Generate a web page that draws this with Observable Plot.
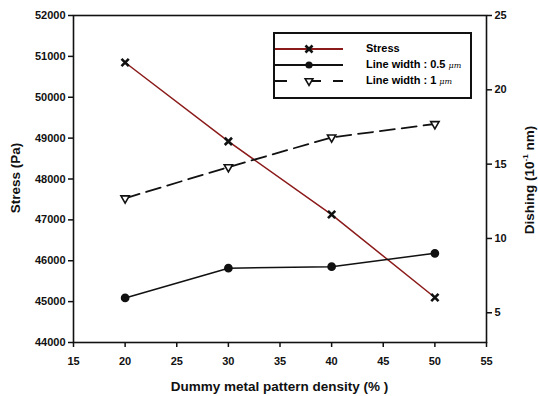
<!DOCTYPE html>
<html>
<head>
<meta charset="utf-8">
<script src="https://cdn.jsdelivr.net/npm/d3@7"></script>
<script src="https://cdn.jsdelivr.net/npm/@observablehq/plot@0.6"></script>
<style>
  html, body { margin: 0; padding: 0; background: #fff; }
  #wrap { position: relative; width: 538px; height: 396px; font-family: "Liberation Sans", Arial, sans-serif; font-weight: bold; }
  #wrap svg { position: absolute; left: 0; top: 0; }
  .lbl { position: absolute; font-size: 13.5px; color: #111; white-space: nowrap; }
  #legend { position: absolute; left: 273px; top: 32px; width: 195px; height: 63px; border: 2px solid #111; background: #fff; box-sizing: content-box; }
  .row { position: absolute; left: 0; height: 16px; font-size: 11px; }
  .row svg { position: absolute; left: 6px; top: 0; }
  .row span.t { position: absolute; left: 91px; top: 1px; white-space: nowrap; }
  .mu { font-family: "DejaVu Serif", serif; font-style: italic; font-weight: normal; font-size: 8px; }
</style>
</head>
<body>
<div id="wrap"></div>
<script>
// ---- data ----
const density = [20, 30, 40, 50];
const stress = [50850, 48920, 47130, 45100];
const dishing05 = [6.0, 8.0, 8.1, 9.0];
const dishing1 = [12.7, 14.8, 16.8, 17.7];
const xTicks = [15, 20, 25, 30, 35, 40, 45, 50, 55];
const stressTicks = [44000, 45000, 46000, 47000, 48000, 49000, 50000, 51000, 52000];
const dishTicks = [5, 10, 15, 20, 25];
const seriesNames = ["Stress", "Line width : 0.5 ", "Line width : 1 "];

const W = 538, H = 396;
const margins = {marginLeft: 73, marginRight: 52, marginTop: 15, marginBottom: 54};
const red = "#8b1a1a";
const font = {fontFamily: "Liberation Sans, Arial, sans-serif", fontWeight: "bold", fontSize: "11px", overflow: "visible"};

const stressData = density.map((x, i) => ({x, y: stress[i]}));
const d05 = density.map((x, i) => ({x, y: dishing05[i]}));
const d1 = density.map((x, i) => ({x, y: dishing1[i]}));

const p1 = Plot.plot({
  width: W, height: H, ...margins,
  style: {...font, background: "transparent"},
  x: {domain: [15, 55], ticks: xTicks},
  y: {domain: [44000, 52000]},
  marks: [
    Plot.axisX({ticks: xTicks, tickSize: 5, tickPadding: 10, label: null, stroke: "#111", strokeWidth: 1.5, fill: "#111"}),
    Plot.axisY({ticks: stressTicks, tickSize: 5, tickPadding: 3, tickFormat: "d", label: null, stroke: "#111", strokeWidth: 1.5, fill: "#111"}),
    Plot.frame({stroke: "#111", strokeWidth: 1.6}),
    Plot.line(stressData, {x: "x", y: "y", stroke: red, strokeWidth: 1.5}),
    Plot.dot(stressData, {x: "x", y: "y", symbol: "times", r: 3.4, stroke: "#111", strokeWidth: 2.6})
  ]
});

const p2 = Plot.plot({
  width: W, height: H, ...margins,
  style: {...font, background: "transparent"},
  x: {domain: [15, 55], axis: null},
  y: {domain: [3, 25]},
  marks: [
    Plot.axisY({anchor: "right", ticks: dishTicks, tickSize: 5, tickPadding: 3, label: null, stroke: "#111", strokeWidth: 1.5, fill: "#111"}),
    Plot.line(d05, {x: "x", y: "y", stroke: "#111", strokeWidth: 1.6}),
    Plot.dot(d05, {x: "x", y: "y", r: 3.6, fill: "#111", stroke: "#111"}),
    Plot.line(d1, {x: "x", y: "y", stroke: "#111", strokeWidth: 1.8, strokeDasharray: "15,7"}),
    Plot.dot(d1, {x: "x", y: "y", symbol: "triangle", rotate: 180, r: 3.1, fill: "#fff", stroke: "#111", strokeWidth: 1.6})
  ]
});

const wrap = document.getElementById("wrap");
wrap.appendChild(p1);
wrap.appendChild(p2);

// axis titles
function label(html, x, y, rot) {
  const d = document.createElement("div");
  d.className = "lbl";
  d.innerHTML = html;
  d.style.left = x + "px";
  d.style.top = y + "px";
  d.style.transform = "translate(-50%,-50%)" + (rot ? ` rotate(${rot}deg)` : "");
  wrap.appendChild(d);
}
label("Dummy metal pattern density (% )", 279.5, 386, 0);
label("Stress (Pa)", 15, 178, -90);
label("Dishing (10<sup style='font-size:8px'>-1</sup> nm)", 529, 180, -90);

// legend
const legend = document.createElement("div");
legend.id = "legend";
wrap.appendChild(legend);
const legendSpec = [
  {name: seriesNames[0], stroke: red, dash: null, symbol: "times"},
  {name: seriesNames[1], stroke: "#111", dash: null, symbol: "circle"},
  {name: seriesNames[2], stroke: "#111", dash: "13,7", symbol: "triangle"}
];
legendSpec.forEach((s, i) => {
  const row = document.createElement("div");
  row.className = "row";
  row.style.top = (7 + i * 16) + "px";
  row.style.width = "195px";
  const svg = d3.create("svg").attr("width", 70).attr("height", 16);
  svg.append("line").attr("x1", 0).attr("x2", 68).attr("y1", 8).attr("y2", 8)
    .attr("stroke", s.stroke).attr("stroke-width", 1.8)
    .attr("stroke-dasharray", s.dash ? "12,6,0,16,12" : null);
  const g = svg.append("g").attr("transform", "translate(34,8)");
  if (s.symbol === "times") {
    g.append("path").attr("d", d3.symbol(d3.symbolTimes, 34)()).attr("stroke", "#111").attr("stroke-width", 2.6).attr("fill", "none");
  } else if (s.symbol === "circle") {
    g.append("circle").attr("r", 3.6).attr("fill", "#111");
  } else {
    g.append("path").attr("d", d3.symbol(d3.symbolTriangle, 26)()).attr("transform", "rotate(180)").attr("stroke", "#111").attr("stroke-width", 1.6).attr("fill", "#fff");
  }
  row.appendChild(svg.node());
  const t = document.createElement("span");
  t.className = "t";
  t.innerHTML = s.name + (i > 0 ? "<span class='mu'>μm</span>" : "");
  row.appendChild(t);
  legend.appendChild(row);
});
</script>
</body>
</html>
